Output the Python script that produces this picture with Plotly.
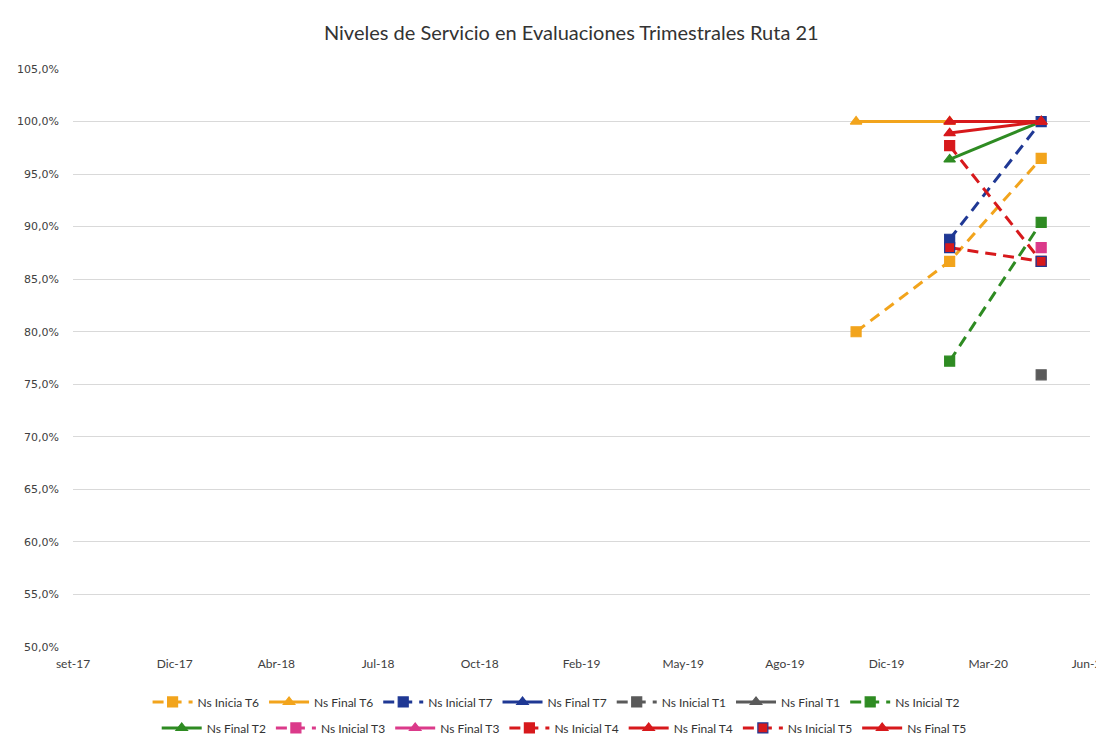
import pandas as pd
import plotly.graph_objects as go

# ---- data ----
dates = ["2019-11-01", "2020-02-01", "2020-05-01"]

ns_inicia_t6 = [0.800, 0.867, 0.965]
ns_final_t6 = [1.000, 1.000, 1.000]
ns_inicial_t7 = [None, 0.888, 1.000]
ns_final_t7 = [None, None, 1.000]
ns_inicial_t1 = [None, None, 0.759]
ns_final_t1 = [None, None, None]
ns_inicial_t2 = [None, 0.772, 0.904]
ns_final_t2 = [None, 0.964, 1.000]
ns_inicial_t3 = [None, None, 0.880]
ns_final_t3 = [None, None, 1.000]
ns_inicial_t4 = [None, 0.977, 0.867]
ns_final_t4 = [None, 0.989, 1.000]
ns_inicial_t5 = [None, 0.880, 0.867]
ns_final_t5 = [None, 1.000, 1.000]

tick_labels = ["set-17", "Dic-17", "Abr-18", "Jul-18", "Oct-18", "Feb-19",
               "May-19", "Ago-19", "Dic-19", "Mar-20", "Jun-20"]
axis_start_serial = 43000   # Excel date serial of axis minimum
axis_major_unit = 100       # days between ticks

excel_epoch = pd.Timestamp("1899-12-30")
tick_vals = [excel_epoch + pd.Timedelta(days=axis_start_serial + axis_major_unit * i)
             for i in range(len(tick_labels))]

ORANGE = "#F2A41C"
NAVY = "#1F3894"
GRAY = "#5A5A5A"
GREEN = "#2E8B22"
PINK = "#DB3A8A"
RED = "#D7191C"

series = [
    ("Ns Inicia T6", ns_inicia_t6, ORANGE, "dash", "square", ORANGE),
    ("Ns Final T6", ns_final_t6, ORANGE, "solid", "triangle-up", ORANGE),
    ("Ns Inicial T7", ns_inicial_t7, NAVY, "dash", "square", NAVY),
    ("Ns Final T7", ns_final_t7, NAVY, "solid", "triangle-up", NAVY),
    ("Ns Inicial T1", ns_inicial_t1, GRAY, "dash", "square", GRAY),
    ("Ns Final T1", ns_final_t1, GRAY, "solid", "triangle-up", GRAY),
    ("Ns Inicial T2", ns_inicial_t2, GREEN, "dash", "square", GREEN),
    ("Ns Final T2", ns_final_t2, GREEN, "solid", "triangle-up", GREEN),
    ("Ns Inicial T3", ns_inicial_t3, PINK, "dash", "square", PINK),
    ("Ns Final T3", ns_final_t3, PINK, "solid", "triangle-up", PINK),
    ("Ns Inicial T4", ns_inicial_t4, RED, "dash", "square", RED),
    ("Ns Final T4", ns_final_t4, RED, "solid", "triangle-up", RED),
    ("Ns Inicial T5", ns_inicial_t5, RED, "dash", "square", NAVY),
    ("Ns Final T5", ns_final_t5, RED, "solid", "triangle-up", RED),
]

fig = go.Figure()
for i, (name, vals, color, dash, symbol, border) in enumerate(series):
    fig.add_trace(go.Scatter(
        x=dates, y=vals, name=name, mode="lines+markers",
        line=dict(color=color, width=3, dash=("11px,7px" if dash == "dash" else dash)),
        marker=dict(symbol=symbol, size=10, color=color,
                    line=dict(color=border, width=1.2)),
        connectgaps=False,
        legend="legend" if i < 7 else "legend2",
    ))

legend_common = dict(orientation="h", xanchor="center", yanchor="middle",
                     font=dict(family="Lato", size=12, color="#333333"),
                     itemwidth=40, tracegroupgap=0, bgcolor="rgba(0,0,0,0)")

fig.update_layout(
    width=1096, height=735,
    margin=dict(l=65, r=14, t=61, b=96, autoexpand=False),
    paper_bgcolor="white", plot_bgcolor="white",
    separators=",.",
    title=dict(text="Niveles de Servicio en Evaluaciones Trimestrales Ruta 21",
               x=0.49, xanchor="center", xref="paper",
               y=0.966, yanchor="middle", yref="container",
               font=dict(family="Lato", size=20, color="#333333")),
    showlegend=True,
    legend=dict(x=0.475, y=-0.095, **legend_common),
    legend2=dict(x=0.483, y=-0.14, **legend_common),
    font=dict(family="Lato", color="#404040"),
)

fig.update_xaxes(
    type="date",
    range=[tick_vals[0], tick_vals[-1]],
    tickmode="array", tickvals=tick_vals, ticktext=tick_labels,
    showgrid=False, zeroline=False, showline=False,
    ticks="", tickfont=dict(family="Lato", size=12, color="#404040"),
    ticklabelstandoff=8, ticklabeloverflow="allow", automargin=False,
)
fig.update_yaxes(
    range=[0.50, 1.05], dtick=0.05, tick0=0.5,
    tickformat=".1%",
    showgrid=True, gridcolor="#D9D9D9", gridwidth=1,
    zeroline=False, showline=False, ticks="",
    tickfont=dict(family="DejaVu Sans", size=11, color="#404040"),
    ticklabelstandoff=13, automargin=False,
)

fig.write_html("out.html")
